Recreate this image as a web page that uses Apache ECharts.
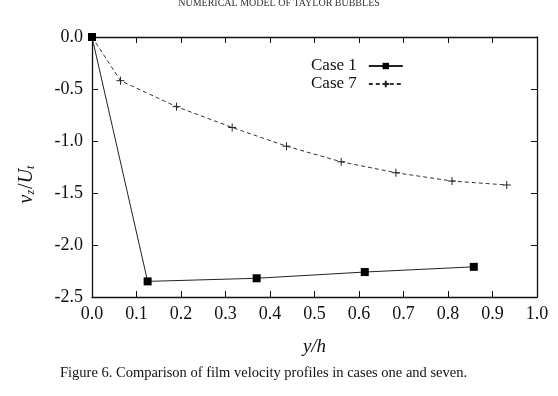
<!DOCTYPE html>
<html><head><meta charset="utf-8">
<script src="https://cdn.jsdelivr.net/npm/echarts@6/dist/echarts.min.js"></script>
<style>html,body{margin:0;padding:0;background:#fff}#c{width:558px;height:396px}</style>
</head><body><div id="c"></div>
<script>
const case1X = [0.0, 0.125, 0.37, 0.613, 0.858];
const case1Y = [0.0, -2.35, -2.32, -2.26, -2.21];
const case7X = [0.0, 0.064, 0.19, 0.315, 0.437, 0.56, 0.683, 0.809, 0.932];
const case7Y = [0.0, -0.42, -0.67, -0.87, -1.05, -1.20, -1.305, -1.385, -1.423];
const seriesNames = ['Case 1', 'Case 7'];
const xTicks = [0.0, 0.1, 0.2, 0.3, 0.4, 0.5, 0.6, 0.7, 0.8, 0.9, 1.0];
const yTicks = [0.0, -0.5, -1.0, -1.5, -2.0, -2.5];
const headerText = 'NUMERICAL MODEL OF TAYLOR BUBBLES';
const captionText = 'Figure 6. Comparison of film velocity profiles in cases one and seven.';

const serif = '"Liberation Serif", "DejaVu Serif", serif';
const zip = (xs, ys) => xs.map((x, i) => [x, ys[i]]);
const axisLine = {show: true, onZero: false, lineStyle: {color: '#111', width: 1.3}};
const tickIn = {show: true, inside: true, length: 6, lineStyle: {color: '#111', width: 1}};

const chart = echarts.init(document.getElementById('c'), null, {renderer: 'canvas'});
chart.setOption({
  animation: false,
  backgroundColor: '#fff',
  grid: {left: 92, right: 21, top: 37, bottom: 99, containLabel: false},
  xAxis: [{
    type: 'value', min: xTicks[0], max: xTicks[xTicks.length - 1], interval: 0.1,
    position: 'bottom',
    axisLine: axisLine, axisTick: tickIn, splitLine: {show: false},
    axisLabel: {color: '#111', fontFamily: serif, fontSize: 18, margin: 8, formatter: v => v.toFixed(1)},
    name: 'y/h', nameLocation: 'middle', nameGap: 40,
    nameTextStyle: {color: '#111', fontFamily: serif, fontSize: 19, fontStyle: 'italic'}
  }, {
    type: 'value', min: xTicks[0], max: xTicks[xTicks.length - 1], interval: 0.1,
    position: 'top',
    axisLine: axisLine, axisTick: tickIn, splitLine: {show: false}, axisLabel: {show: false}
  }],
  yAxis: [{
    type: 'value', min: yTicks[yTicks.length - 1], max: yTicks[0], interval: 0.5,
    position: 'left',
    axisLine: axisLine, axisTick: tickIn, splitLine: {show: false},
    axisLabel: {color: '#111', fontFamily: serif, fontSize: 18, margin: 9, formatter: v => v.toFixed(1)}
  }, {
    type: 'value', min: yTicks[yTicks.length - 1], max: yTicks[0], interval: 0.5,
    position: 'right',
    axisLine: axisLine, axisTick: tickIn, splitLine: {show: false}, axisLabel: {show: false}
  }],
  legend: {
    orient: 'vertical', left: 306, top: 52, align: 'right',
    itemWidth: 34, itemHeight: 8, itemGap: 0,
    textStyle: {color: '#111', fontFamily: serif, fontSize: 17, lineHeight: 18, padding: [0, 7, 0, 0]},
    data: seriesNames
  },
  series: [{
    name: seriesNames[0], type: 'line', data: zip(case1X, case1Y),
    symbol: 'rect', symbolSize: 8,
    lineStyle: {color: '#222', width: 1, type: 'solid'},
    itemStyle: {color: '#000'},
    z: 3
  }, {
    name: seriesNames[1], type: 'line', data: zip(case7X, case7Y),
    symbol: 'path://M0,5L10,5M5,0L5,10', symbolSize: 8,
    lineStyle: {color: '#333', width: 1, type: [4, 3]},
    itemStyle: {color: 'rgba(0,0,0,0)', borderColor: '#222', borderWidth: 1},
    z: 2
  }],
  graphic: [{
    type: 'text', left: 'center', top: -2,
    style: {text: headerText, font: '10px ' + serif, fill: '#333'}
  }, {
    type: 'text', left: 60, top: 366,
    style: {text: captionText, font: '14.5px ' + serif, fill: '#111'}
  }, {
    type: 'text', x: 27, y: 184, rotation: Math.PI / 2, originX: 0, originY: 0,
    style: {
      text: '{i|v}{s|z}{n|/}{i|U}{s|t}',
      align: 'center', verticalAlign: 'middle',
      rich: {
        i: {font: 'italic 20px ' + serif, fill: '#111'},
        n: {font: '20px ' + serif, fill: '#111'},
        s: {font: 'italic 12px ' + serif, fill: '#111', padding: [8, 1, 0, 0]}
      }
    }
  }]
});
</script>
</body></html>
